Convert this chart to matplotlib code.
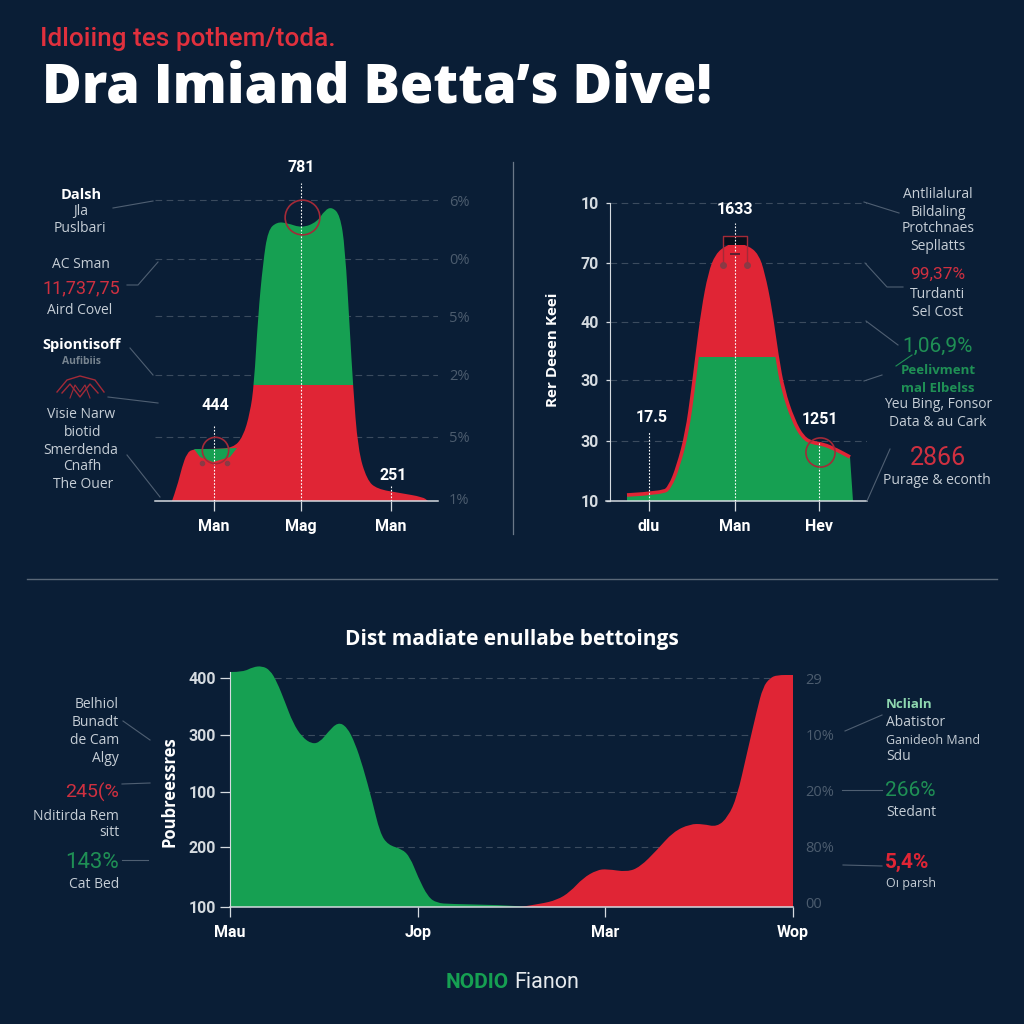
import matplotlib
matplotlib.use('Agg')
import matplotlib.pyplot as plt
from matplotlib.patches import PathPatch, Rectangle
from matplotlib.path import Path

BG = '#0a1e36'
GREEN = '#16a052'
RED = '#e02535'
DARKRED = '#a32a38'
GRID = '#3b4b5e'
LEAD = '#4f5f72'
SOFT = '#c6ced6'
MUTED = '#4c5c6e'
TXT_RED = '#cf3040'
TXT_GREEN = '#1f9055'
NARROW = ['Roboto']
BODY = ['Open Sans', 'DejaVu Sans']

# chart 1
x1 = [17, 22, 27, 32, 38, 58, 78, 88, 95, 99, 103, 108, 113, 122, 132, 147, 162, 170, 177, 185, 190, 195, 198, 203, 212, 222, 245, 268, 273]
y1 = [0, 14, 34, 48, 52, 52, 53, 64, 88, 116, 184, 238, 271, 279, 278, 273, 279, 291, 294, 286, 254, 168, 116, 51, 21, 12, 8, 4, 0]
split1 = 116
bump_x = [39, 58, 82, 75, 58, 45]
bump_y = [52, 52, 53, 44, 39, 44]
ticks1_x = [59, 146, 236]
labels1_x = ['Man', 'Mag', 'Man']
ticks1_y = [301, 242, 185, 126, 64, 3]
labels1_y = ['6%', '0%', '5%', '2%', '5%', '1%']
grid1 = [301, 242, 185, 126, 64]

# chart 2
x2 = [17, 53, 60, 68, 77, 83, 87, 93, 100, 107, 117, 125, 137, 147, 153, 160, 167, 173, 183, 193, 203, 213, 227, 240]
y2 = [6, 8, 14, 34, 68, 111, 144, 191, 228, 246, 254, 256, 254, 246, 228, 194, 144, 111, 81, 63, 58, 57, 51, 44]
end2 = 243
split2 = 144
ticks2_x = [39, 125, 209]
labels2_x = ['dlu', 'Man', 'Hev']
ticks2_y = [0, 60, 121, 179, 238, 298]
labels2_y = ['10', '30', '30', '40', '70', '10']
grid2 = [60, 121, 179, 238, 298]

# chart 3
x3_green = [1, 13, 23, 32, 40, 47, 55, 63, 72, 82, 90, 98, 108, 117, 125, 133, 142, 150, 158, 172, 180, 188, 198, 207, 220, 270, 300]
y3_green = [235, 235, 240, 241, 237, 225, 205, 184, 170, 163, 165, 175, 185, 180, 164, 140, 107, 74, 62, 58, 50, 30, 10, 4, 3, 2, 0]
x3_red = [290, 310, 327, 340, 353, 367, 377, 397, 410, 427, 443, 460, 473, 487, 498, 507, 517, 527, 533, 540, 547, 563]
y3_red = [0, 3, 7, 15, 29, 37, 38, 35, 40, 57, 75, 83, 83, 80, 90, 110, 154, 197, 220, 229, 232, 232]
ticks3_x = [0, 188, 375, 563]
labels3_x = ['Mau', 'Jop', 'Mar', 'Wop']
ticks3_y = [0, 60, 115, 172, 229]
labels3_y = ['100', '200', '100', '300', '400']
right3_y = [4, 60, 117, 172, 229]
right3_labels = ['00', '80%', '20%', '10%', '29']
grid3 = [60, 115, 172, 229]

fig = plt.figure(figsize=(10.24, 10.24), dpi=100, facecolor=BG)


def make_axes(left, right, top, bottom):
    ax = fig.add_axes([left / 1024, 1 - bottom / 1024, (right - left) / 1024, (bottom - top) / 1024])
    ax.set_facecolor('none')
    ax.set_xlim(0, right - left)
    ax.set_ylim(0, bottom - top)
    for s in ['top', 'right', 'left']:
        ax.spines[s].set_visible(False)
    ax.spines['bottom'].set_color('#d5dbe0')
    ax.spines['bottom'].set_linewidth(1.1)
    ax.tick_params(axis='x', colors='#d5dbe0', length=7, width=0.9, pad=6)
    return ax


def set_xlabels(ax, ticks, labels):
    ax.set_xticks(ticks)
    ax.set_xticklabels(labels, family=NARROW, weight='bold', fontsize=11.5, color='white')


def dashes(ax, levels):
    for g in levels:
        ax.axhline(g, color=GRID, lw=0.8, ls=(0, (6, 4)), zorder=1)


def drop(ax, x, top):
    ax.plot([x, x], [0, top], color='white', lw=0.8, ls=(0, (1.5, 1.5)), zorder=5)


def curve_codes(x, y):
    # the read points act as quadratic control points, so the outline stays round
    verts = [(x[0], y[0])]
    codes = [Path.LINETO]
    for i in range(1, len(x) - 1):
        verts += [(x[i], y[i]), ((x[i] + x[i + 1]) / 2, (y[i] + y[i + 1]) / 2)]
        codes += [Path.CURVE3, Path.CURVE3]
    verts.append((x[-1], y[-1]))
    codes.append(Path.LINETO)
    return verts, codes


def area(ax, x, y, color, lo=None, hi=None, end=None):
    verts, codes = curve_codes(x, y)
    verts = [(x[0], 0)] + verts + [(x[-1] if end is None else end, 0), (x[0], 0)]
    codes = [Path.MOVETO] + codes + [Path.LINETO, Path.CLOSEPOLY]
    patch = PathPatch(Path(verts, codes), facecolor=color, edgecolor='none', zorder=2)
    ax.add_patch(patch)
    if lo is not None:
        patch.set_clip_path(Rectangle((0, lo), 1000, hi - lo, transform=ax.transData))


def edge(ax, x, y, color, lw):
    verts, codes = curve_codes(x, y)
    codes[0] = Path.MOVETO
    ax.add_patch(PathPatch(Path(verts, codes), facecolor='none', edgecolor=color, lw=lw, capstyle='butt', zorder=3))


# ---- chart 1
ax1 = make_axes(155, 438, 160, 501)
dashes(ax1, grid1)
area(ax1, x1, y1, RED, 0, split1)
area(ax1, x1, y1, GREEN, split1, 400)
ax1.fill(bump_x, bump_y, color=GREEN, lw=0, zorder=3)
set_xlabels(ax1, ticks1_x, labels1_x)
ax1.yaxis.tick_right()
ax1.set_yticks(ticks1_y)
ax1.set_yticklabels(labels1_y, family=BODY, fontsize=10.5, color=MUTED)
ax1.tick_params(axis='y', length=0, pad=8)
drop(ax1, 146, 318)
drop(ax1, 59, 76)
drop(ax1, 236, 16)
ax1.plot([147], [284], 'o', mfc='none', mec=DARKRED, mew=1.2, ms=25, zorder=6)
ax1.plot([60], [51], 'o', mfc='none', mec=DARKRED, mew=1.2, ms=19, zorder=6)
ax1.plot([47, 72], [38, 38], 'o', color='#8a3a45', ms=3, ls='none', zorder=6)
ax1.text(146, 333, '781', family=NARROW, weight='bold', fontsize=11.5, color='white', ha='center', va='center')
ax1.text(60, 95, '444', family=NARROW, weight='bold', fontsize=11.5, color='white', ha='center', va='center')
ax1.text(238, 26, '251', family=NARROW, weight='bold', fontsize=11.5, color='white', ha='center', va='center')

# ---- chart 2
ax2 = make_axes(610, 867, 195, 501)
dashes(ax2, grid2)
area(ax2, x2, y2, GREEN, 0, split2, end=end2)
area(ax2, x2, y2, RED, split2, 400, end=end2)
edge(ax2, x2, y2, RED, 2.6)
set_xlabels(ax2, ticks2_x, labels2_x)
ax2.set_yticks(ticks2_y)
ax2.set_yticklabels(labels2_y, family=NARROW, weight='bold', fontsize=11.5, color='white')
ax2.tick_params(axis='y', colors='#d5dbe0', length=3, width=0.9, pad=5)
ax2.spines['left'].set_visible(True)
ax2.spines['left'].set_color('#d5dbe0')
ax2.spines['left'].set_bounds(0, 298)
ax2.spines['bottom'].set_bounds(-4, 257)
ax2.fill_between([113, 137], 256, 265, color='#07101c', lw=0, zorder=4)
ax2.plot([113, 113, 137, 137], [236, 265, 265, 236], color=DARKRED, lw=1, zorder=6)
ax2.plot([113, 137], [236, 236], 'o', color='#8a3a45', ms=4, ls='none', zorder=6)
ax2.plot([121, 129], [247, 247], color='#5a2030', lw=1.4, zorder=6)
drop(ax2, 39, 70)
drop(ax2, 125, 278)
drop(ax2, 209, 58)
ax2.plot([210], [49], 'o', mfc='none', mec=DARKRED, mew=1.2, ms=21, zorder=6)
ax2.text(125, 291, '1633', family=NARROW, weight='bold', fontsize=11.5, color='white', ha='center', va='center')
ax2.text(42, 84, '17.5', family=NARROW, weight='bold', fontsize=11.5, color='white', ha='center', va='center')
ax2.text(210, 82, '1251', family=NARROW, weight='bold', fontsize=11.5, color='white', ha='center', va='center')

# ---- chart 3
ax3 = make_axes(230, 793, 660, 907)
dashes(ax3, grid3)
area(ax3, x3_green, y3_green, GREEN)
area(ax3, x3_red, y3_red, RED)
set_xlabels(ax3, ticks3_x, labels3_x)
ax3.set_yticks(ticks3_y)
ax3.set_yticklabels(labels3_y, family=NARROW, weight='bold', fontsize=11.5, color='white')
ax3.tick_params(axis='y', colors='#d5dbe0', length=7, width=0.9, pad=3)
ax3.spines['left'].set_visible(True)
ax3.spines['left'].set_color('#d5dbe0')
ax3.spines['left'].set_bounds(0, 235)
twin = ax3.twinx()
twin.set_ylim(ax3.get_ylim())
for s in twin.spines.values():
    s.set_visible(False)
twin.set_yticks(right3_y)
twin.set_yticklabels(right3_labels, family=BODY, fontsize=10.5, color=MUTED)
twin.tick_params(axis='y', length=0, pad=9)

# ---- texts and leaders, in pixel coordinates
ov = fig.add_axes([0, 0, 1, 1], zorder=10)
ov.set_xlim(0, 1024)
ov.set_ylim(1024, 0)
ov.axis('off')
ov.patch.set_alpha(0)


def note(x, y, s, color=SOFT, size=10, weight='normal', ha='center', fam=BODY, **kw):
    ov.text(x, y, s, color=color, fontsize=size, weight=weight, ha=ha, va='center', family=fam, **kw)


def lead(xs, ys):
    ov.plot(xs, ys, color=LEAD, lw=0.8)


note(40, 39, 'Idloiing tes pothem/toda.', color='#e0303d', size=18.8, weight='medium', ha='left', fam=['Roboto'])
note(42, 88, 'Dra Imiand Betta\u2019s Dive!', color='white', size=39, weight=800, ha='left')
note(512, 639, 'Dist madiate enullabe bettoings', color='white', size=15, weight='bold')
note(446, 983, 'NODIO', color=GREEN, size=15, weight='bold', ha='left', fam=['Roboto'])
note(514, 983, 'Fianon', color='#e6eaee', size=15.5, ha='left', fam=['Roboto'])

ov.plot([513, 513], [162, 534], color='#6a7888', lw=0.9)
ov.plot([27, 997], [579, 579], color='#5a6878', lw=1.0)

# left block
note(81, 195, 'Dalsh', color='white', size=10.5, weight='bold')
note(81, 212, 'Jla')
note(80, 229, 'Puslbari')
note(81, 265, 'AC Sman')
note(81, 288, '11,737,75', color=TXT_RED, size=13, fam=['Roboto'])
note(80, 310, 'Aird Covel')
note(82, 345, 'Spiontisoff', color='white', size=10.5, weight='bold')
note(81, 362, 'Aufibiis', color='#76838f', size=7.5, weight='bold')
ov.plot([57, 67, 80, 95, 104], [392, 380, 376, 380, 392], color=DARKRED, lw=1)
ov.plot([62, 70, 80, 90, 98], [393, 384, 397, 384, 393], color=DARKRED, lw=1)
ov.plot([70, 75, 80, 85, 90], [398, 385, 392, 385, 398], color=DARKRED, lw=0.8)
note(81, 415, 'Visie Narw')
note(83, 433, 'biotid')
note(81, 450, 'Smerdenda')
note(82, 467, 'Cnafh')
note(83, 485, 'The Ouer')
lead([113, 153], [208, 201])
lead([127, 138, 158], [285, 285, 262])
lead([130, 153], [348, 375])
lead([108, 158], [397, 403])
lead([127, 160], [455, 497])

# right block of top charts
note(938, 195, 'Antlilalural')
note(938, 212, 'Bildaling')
note(938, 229, 'Protchnaes')
note(938, 247, 'Sepllatts')
note(938, 274, '99,37%', color=TXT_RED, size=12.5, fam=['Roboto'])
note(938, 295, 'Turdanti')
note(938, 312, 'Sel Cost')
note(938, 346, '1,06,9%', color=TXT_GREEN, size=15, fam=['Roboto'])
note(938, 370, 'Peelivment', color=TXT_GREEN, size=9.5, weight='bold')
note(938, 388, 'mal Elbelss', color=TXT_GREEN, size=9.5, weight='bold')
note(938, 405, 'Yeu Bing, Fonsor')
note(938, 423, 'Data & au Cark')
note(938, 458, '2866', color=TXT_RED, size=18, fam=['Roboto'])
note(937, 481, 'Purage & econth')
lead([864, 899], [202, 213])
lead([865, 887, 903], [263, 287, 287])
lead([866, 898], [321, 345])
lead([864, 882], [381, 375])
lead([867, 890], [501, 449])
ov.plot([896, 912], [366, 355], color=TXT_GREEN, lw=0.8)

# bottom chart side notes
note(119, 705, 'Belhiol', ha='right')
note(119, 723, 'Bunadt', ha='right')
note(119, 741, 'de Cam', ha='right')
note(119, 759, 'Algy', ha='right')
note(119, 792, '245(%', color=TXT_RED, size=14, ha='right', fam=['Roboto'])
note(119, 816, 'Nditirda Rem', ha='right')
note(119, 833, 'sitt', ha='right')
note(119, 862, '143%', color=TXT_GREEN, size=16, ha='right', fam=['Roboto'])
note(119, 885, 'Cat Bed', ha='right')
note(169, 792, 'Poubreessres', color='white', size=12, weight='bold', rotation=90)
note(553, 350, 'Rer Deeen Keei', color='white', size=11, weight='bold', rotation=90)
lead([123, 150], [721, 740])
lead([122, 150], [784, 783])
lead([122, 148], [860, 860])

note(886, 705, 'Nclialn', color='#8fd8b0', size=9.5, weight='bold', ha='left')
note(886, 723, 'Abatistor', ha='left')
note(886, 740, 'Ganideoh Mand', size=9, ha='left')
note(886, 757, 'Sdu', ha='left')
note(885, 790, '266%', color=TXT_GREEN, size=15, ha='left', fam=['Roboto'])
note(886, 813, 'Stedant', ha='left')
note(885, 862, '5,4%', color=RED, size=15, weight='bold', ha='left', fam=['Roboto'])
note(886, 884, 'Oı parsh', size=9, ha='left')
lead([845, 882], [731, 715])
lead([842, 882], [790, 790])
lead([843, 882], [865, 866])

fig.savefig('out.png', dpi=100, facecolor=BG)
